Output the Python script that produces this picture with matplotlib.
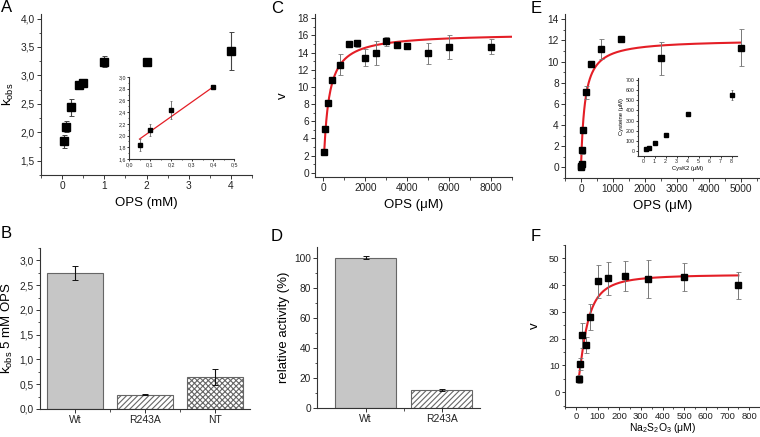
import numpy as np
import matplotlib
matplotlib.use("Agg")
import matplotlib.pyplot as plt
from matplotlib.ticker import MultipleLocator, FuncFormatter

plt.rcParams['font.family'] = ['Liberation Sans', 'DejaVu Sans']
plt.rcParams['mathtext.fontset'] = 'custom'
plt.rcParams['mathtext.rm'] = 'Liberation Sans'
plt.rcParams['mathtext.it'] = 'Liberation Sans'
plt.rcParams['hatch.linewidth'] = 0.8
plt.rcParams['hatch.color'] = '#222222'

# ---------------- data ----------------
A_x = [0.05, 0.1, 0.2, 0.4, 0.5, 1, 2, 4]
A_y = [1.84, 2.10, 2.44, 2.83, 2.87, 3.24, 3.23, 3.43]
A_err = [0.11, 0.10, 0.15, 0.03, 0.03, 0.10, 0.03, 0.33]
Ain_slope, Ain_icept = 2.54, 1.813
Ain_fit_range = [0.05, 0.4]

C_x = [50, 100, 200, 400, 800, 1200, 1600, 2000, 2500, 3000, 3500, 4000, 5000, 6000, 8000]
C_y = [2.4, 5.1, 8.1, 10.8, 12.6, 15.0, 15.1, 13.4, 13.9, 15.3, 14.9, 14.8, 13.9, 14.6, 14.7]
C_err = [0, 0, 0, 0.3, 1.2, 0, 0.4, 1.0, 1.4, 0.5, 0, 0, 1.2, 1.4, 0.9]
C_vmax, C_km = 16.26, 233.0

E_x = [0, 9.8, 19.5, 39, 78, 156, 312, 625, 1250, 2500, 5000]
E_y = [0.05, 0.15, 0.35, 1.6, 3.55, 7.1, 9.75, 11.15, 12.1, 10.3, 11.3]
E_err = [0, 0, 0.1, 0.3, 0.3, 0.6, 0, 0.95, 0.1, 1.6, 1.75]
E_vmax, E_km = 12.09, 123.0

Ein_x = [0.25, 0.5, 1, 2, 4, 8]
Ein_y = [16, 30, 76, 158, 360, 553]
Ein_err = [0, 0, 0, 0, 0, 50]

F_x = [12.5, 20, 30, 45, 66, 100, 150, 225, 333, 500, 750]
F_y = [5.0, 10.7, 21.3, 17.5, 28.0, 41.5, 42.5, 43.4, 42.3, 43.1, 39.9]
F_err = [1.5, 2.2, 4.6, 3.0, 4.9, 6.2, 6.3, 5.7, 7.2, 5.3, 5.0]
F_vmax, F_k, F_n = 44.0, 44.0, 1.7

B_cats = ['Wt', 'R243A', 'NT']
B_vals = [2.75, 0.29, 0.65]
B_err = [0.14, 0.005, 0.16]

D_cats = ['Wt', 'R243A']
D_vals = [100, 12]
D_err = [0.8, 0.4]

# ---------------- figure ----------------
W, H = 760, 437
fig = plt.figure(figsize=(W / 100, H / 100), dpi=100)
RED = '#e41e26'
AXC = '#333333'


def ax_px(l, t, r, b):
    return fig.add_axes([l / W, 1 - b / H, (r - l) / W, (b - t) / H])


def comma(dec):
    return FuncFormatter(lambda v, p: (f"{v:.{dec}f}").replace('.', ','))


def style(ax, fs=7.3, major=3, minor=1.8):
    for s in ['top', 'right']:
        ax.spines[s].set_visible(False)
    for s in ['left', 'bottom']:
        ax.spines[s].set_color(AXC)
        ax.spines[s].set_linewidth(0.8)
    ax.tick_params(which='major', direction='out', length=major, width=0.7,
                   colors=AXC, labelsize=fs, labelcolor='#222222', pad=1.5)
    ax.tick_params(which='minor', direction='out', length=minor, width=0.6, colors=AXC)


def letter(x, y, s):
    fig.text(x / W, 1 - y / H, s, fontsize=12, ha='left', va='top')


# ---------- A ----------
axA = ax_px(41, 14, 252, 175)
style(axA)
axA.errorbar(A_x, A_y, yerr=A_err, fmt='s', ms=5.2, color='black',
             ecolor='#444444', elinewidth=0.8, capsize=1.8, capthick=0.7)
axA.set_xlim(-0.5, 4.5)
axA.set_ylim(1.25, 4.08)
axA.xaxis.set_major_locator(MultipleLocator(1))
axA.xaxis.set_minor_locator(MultipleLocator(0.5))
axA.yaxis.set_major_locator(MultipleLocator(0.5))
axA.yaxis.set_minor_locator(MultipleLocator(0.25))
axA.yaxis.set_major_formatter(comma(1))
axA.set_xlabel('OPS (mM)', fontsize=9.5, labelpad=4)
axA.set_ylabel(r'k$_{\rm obs}$', fontsize=9.5, labelpad=3)

axAi = ax_px(129, 77, 234, 159)
style(axAi, fs=3.8, major=1.5, minor=0.8)
axAi.errorbar(A_x[:4], A_y[:4], yerr=A_err[:4], fmt='s', ms=2.6, color='black',
              ecolor='#444444', elinewidth=0.5, capsize=1, capthick=0.4)
fx = np.array(Ain_fit_range)
axAi.plot(fx, Ain_slope * fx + Ain_icept, color=RED, lw=0.9, zorder=1)
axAi.set_xlim(0, 0.5)
axAi.set_ylim(1.6, 3.0)
axAi.xaxis.set_major_locator(MultipleLocator(0.1))
axAi.xaxis.set_minor_locator(MultipleLocator(0.05))
axAi.yaxis.set_major_locator(MultipleLocator(0.2))
axAi.yaxis.set_minor_locator(MultipleLocator(0.1))
axAi.xaxis.set_major_formatter(comma(1))
axAi.yaxis.set_major_formatter(comma(1))
axAi.tick_params(pad=0.8)
axAi.patch.set_alpha(0)

# ---------- C ----------
axC = ax_px(315, 14, 512, 177)
style(axC)
cx = np.linspace(C_x[0], 9000, 400)
axC.plot(cx, C_vmax * cx / (C_km + cx), color=RED, lw=1.5, zorder=1)
axC.errorbar(C_x, C_y, yerr=C_err, fmt='s', ms=3.8, color='black',
             ecolor='#777777', elinewidth=0.7, capsize=1.8, capthick=0.6, zorder=3)
axC.set_xlim(-400, 9000)
axC.set_ylim(-0.5, 18.5)
axC.xaxis.set_major_locator(MultipleLocator(2000))
axC.xaxis.set_minor_locator(MultipleLocator(1000))
axC.yaxis.set_major_locator(MultipleLocator(2))
axC.yaxis.set_minor_locator(MultipleLocator(1))
axC.set_xlabel('OPS (μM)', fontsize=9.5, labelpad=4)
axC.set_ylabel('v', fontsize=9.5, labelpad=6)

# ---------- E ----------
axE = ax_px(565, 14, 760, 178)
style(axE)
ex = np.linspace(0, E_x[-1], 400)
axE.plot(ex, E_vmax * ex / (E_km + ex), color=RED, lw=1.5, zorder=1)
axE.errorbar(E_x, E_y, yerr=E_err, fmt='s', ms=4.6, color='black',
             ecolor='#777777', elinewidth=0.7, capsize=1.8, capthick=0.6, zorder=3)
axE.set_xlim(-500, 5600)
axE.set_ylim(-1, 14.5)
axE.xaxis.set_major_locator(MultipleLocator(1000))
axE.xaxis.set_minor_locator(MultipleLocator(500))
axE.yaxis.set_major_locator(MultipleLocator(2))
axE.yaxis.set_minor_locator(MultipleLocator(1))
axE.set_xlabel('OPS (μM)', fontsize=9.5, labelpad=4)

axEi = ax_px(638, 78, 737, 156)
style(axEi, fs=3.8, major=1.5, minor=0.8)
axEi.errorbar(Ein_x, Ein_y, yerr=Ein_err, fmt='s', ms=2.4, color='black',
              ecolor='#444444', elinewidth=0.5, capsize=1, capthick=0.4)
axEi.set_xlim(-0.5, 8.5)
axEi.set_ylim(-50, 720)
axEi.xaxis.set_major_locator(MultipleLocator(1))
axEi.yaxis.set_major_locator(MultipleLocator(100))
axEi.yaxis.set_minor_locator(MultipleLocator(50))
axEi.set_xlabel('CysK2 (μM)', fontsize=4.2, labelpad=1)
axEi.set_ylabel('Cysteine (μM)', fontsize=4.2, labelpad=1.5)
axEi.tick_params(pad=0.8)
axEi.patch.set_alpha(0)

# ---------- B ----------
axB = ax_px(40, 248, 250, 409)
style(axB)
B_styles = [dict(color='#c6c6c6', hatch=None),
            dict(color='white', hatch='//////'),
            dict(color='white', hatch='xxxxxx')]
bx = np.arange(len(B_cats))
for i, (v, st) in enumerate(zip(B_vals, B_styles)):
    axB.bar(bx[i], v, width=0.8, color=st['color'], hatch=st['hatch'],
            edgecolor='#666666', linewidth=0.8, zorder=2)
axB.errorbar(bx, B_vals, yerr=B_err, fmt='none', ecolor='#111111',
             elinewidth=0.8, capsize=2.2, capthick=0.7, zorder=3)
axB.set_xlim(-0.5, 2.5)
axB.set_ylim(0, 3.25)
axB.set_xticks(bx)
axB.set_xticklabels(B_cats, fontsize=7.5)
axB.set_xticks([0.5, 1.5], minor=True)
axB.yaxis.set_major_locator(MultipleLocator(0.5))
axB.yaxis.set_minor_locator(MultipleLocator(0.25))
axB.yaxis.set_major_formatter(comma(1))
axB.set_ylabel(r'k$_{\rm obs}$ 5 mM OPS', fontsize=9.5, labelpad=3)

# ---------- D ----------
axD = ax_px(317, 247, 480, 408)
style(axD)
D_styles = [dict(color='#c6c6c6', hatch=None), dict(color='white', hatch='//////')]
dx = np.arange(len(D_cats))
for i, (v, st) in enumerate(zip(D_vals, D_styles)):
    axD.bar(dx[i], v, width=0.8, color=st['color'], hatch=st['hatch'],
            edgecolor='#666666', linewidth=0.8, zorder=2)
axD.errorbar(dx, D_vals, yerr=D_err, fmt='none', ecolor='#111111',
             elinewidth=0.8, capsize=2.2, capthick=0.7, zorder=3)
axD.set_xlim(-0.64, 1.5)
axD.set_ylim(0, 107)
axD.set_xticks(dx)
axD.set_xticklabels(D_cats, fontsize=7.5)
axD.set_xticks([0.5], minor=True)
axD.yaxis.set_major_locator(MultipleLocator(20))
axD.yaxis.set_minor_locator(MultipleLocator(10))
axD.set_ylabel('relative activity (%)', fontsize=9.5, labelpad=3)

# ---------- F ----------
axF = ax_px(565, 245, 760, 407)
style(axF, fs=6.8, major=2.5, minor=1.5)
axF.tick_params(axis='x', pad=1)
fxs = np.linspace(F_x[0], F_x[-1], 400)
axF.plot(fxs, F_vmax * fxs**F_n / (F_k**F_n + fxs**F_n), color=RED, lw=1.5, zorder=1)
axF.errorbar(F_x, F_y, yerr=F_err, fmt='s', ms=4.0, color='black',
             ecolor='#777777', elinewidth=0.7, capsize=1.8, capthick=0.6, zorder=3)
axF.set_xlim(-50, 850)
axF.set_ylim(-5.5, 55)
axF.xaxis.set_major_locator(MultipleLocator(100))
axF.xaxis.set_minor_locator(MultipleLocator(50))
axF.yaxis.set_major_locator(MultipleLocator(10))
axF.yaxis.set_minor_locator(MultipleLocator(5))
axF.set_xlabel(r'Na$_2$S$_2$O$_3$ (μM)', fontsize=7.5)
axF.xaxis.label.set_va('top')
axF.xaxis.set_label_coords(0.5, -(421 - 407) / (407 - 245))
axF.set_ylabel('v', fontsize=9.5, labelpad=6)

# ---------- panel letters ----------
letter(1, 0, 'A')
letter(271, 1, 'C')
letter(531, 1, 'E')
letter(1, 226, 'B')
letter(271, 229, 'D')
letter(531, 229, 'F')

fig.savefig('out.png', dpi=100)
